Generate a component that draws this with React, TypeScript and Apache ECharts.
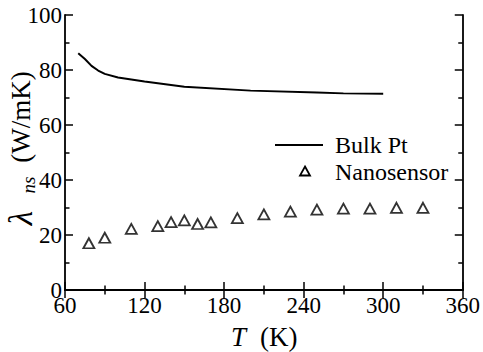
import React, { useEffect, useRef } from "react";
import * as echarts from "echarts";

const bulkT = [70, 75, 80, 85, 90, 100, 120, 150, 200, 250, 270, 300];
const bulkVal = [86.1, 84, 81.5, 79.8, 78.6, 77.3, 75.8, 73.9, 72.5, 71.8, 71.5, 71.4];

const nanoT = [78, 90, 110, 130, 140, 150, 160, 170, 190, 210, 230, 250, 270, 290, 310, 330];
const nanoVal = [17.0, 19.0, 22.2, 23.2, 24.7, 25.3, 24.0, 24.6, 26.1, 27.5, 28.5, 29.2, 29.6, 29.6, 29.9, 29.9];

const xTicks = [60, 120, 180, 240, 300, 360];
const yTicks = [0, 20, 40, 60, 80, 100];

const FONT = "'Liberation Serif', 'Times New Roman', serif";

export default function App() {
  const ref = useRef<HTMLDivElement>(null);
  useEffect(() => {
    const chart = echarts.init(ref.current!, null, { renderer: "svg" });
    const axisCommon = {
      axisLine: { show: true, lineStyle: { color: "#000", width: 1.8 } },
      axisTick: { show: true, inside: true, length: 8, lineStyle: { color: "#000", width: 1.5 } },
      minorTick: { show: true, splitNumber: 2, length: 4.5, lineStyle: { color: "#000", width: 1.5 } },
      splitLine: { show: false },
    };
    chart.setOption({
      animation: false,
      backgroundColor: "#fff",
      textStyle: { fontFamily: FONT },
      grid: { left: 65, right: 16, top: 15, bottom: 62 },
      xAxis: [
        {
          type: "value", min: 60, max: 360, interval: 60, position: "bottom",
          ...axisCommon,
          axisLabel: { color: "#000", fontFamily: FONT, fontSize: 23, margin: 4,
            formatter: (v: number) => (xTicks.includes(v) ? String(v) : "") },
        },
        {
          type: "value", min: 60, max: 360, interval: 60, position: "top",
          ...axisCommon, axisLabel: { show: false },
        },
      ],
      yAxis: [
        {
          type: "value", min: 0, max: 100, interval: 20, position: "left",
          ...axisCommon,
          axisLabel: { color: "#000", fontFamily: FONT, fontSize: 23, margin: 3,
            formatter: (v: number) => (yTicks.includes(v) ? String(v) : "") },
        },
        {
          type: "value", min: 0, max: 100, interval: 20, position: "right",
          ...axisCommon, axisLabel: { show: false },
        },
      ],
      series: [
        {
          name: "Bulk Pt", type: "line", smooth: false, showSymbol: false, symbol: "none",
          data: bulkT.map((t, i) => [t, bulkVal[i]]),
          lineStyle: { color: "#000", width: 2 },
        },
        {
          name: "Nanosensor", type: "scatter", symbol: "triangle", symbolSize: [11, 10],
          data: nanoT.map((t, i) => [t, nanoVal[i]]),
          itemStyle: { color: "#fff", borderColor: "#000", borderWidth: 1.8 },
        },
      ],
      graphic: [
        { type: "line", shape: { x1: 275, y1: 145, x2: 323, y2: 145 }, style: { stroke: "#000", lineWidth: 2 } },
        { type: "text", x: 335, y: 145, style: { text: "Bulk Pt", fontFamily: FONT, fontSize: 24, fill: "#000", verticalAlign: "middle" } },
        { type: "polygon", shape: { points: [[305, 166.5], [310, 175.5], [300, 175.5]] }, style: { fill: "#fff", stroke: "#000", lineWidth: 1.8 } },
        { type: "text", x: 335, y: 172, style: { text: "Nanosensor", fontFamily: FONT, fontSize: 24, fill: "#000", verticalAlign: "middle" } },
        { type: "text", x: 231, y: 337, style: { text: "T", fontFamily: FONT, fontStyle: "italic", fontSize: 27, fill: "#000", verticalAlign: "middle" } },
        { type: "text", x: 260, y: 337, style: { text: "(K)", fontFamily: FONT, fontSize: 27, fill: "#000", verticalAlign: "middle" } },
        {
          type: "group", x: 21, y: 142, rotation: Math.PI / 2,
          children: [
            { type: "text", x: -76, y: 0, style: { text: "λ", fontFamily: FONT, fontStyle: "italic", fontSize: 33, fill: "#000", align: "center", verticalAlign: "middle" } },
            { type: "text", x: -43, y: 7, style: { text: "ns", fontFamily: FONT, fontStyle: "italic", fontSize: 19, fill: "#000", align: "center", verticalAlign: "middle" } },
            { type: "text", x: 25, y: 0, style: { text: "(W/mK)", fontFamily: FONT, fontSize: 27, fill: "#000", align: "center", verticalAlign: "middle" } },
          ],
        },
      ],
    });
    return () => chart.dispose();
  }, []);
  return <div ref={ref} style={{ width: 483, height: 352, position: "absolute", left: 0, top: 0 }} />;
}
